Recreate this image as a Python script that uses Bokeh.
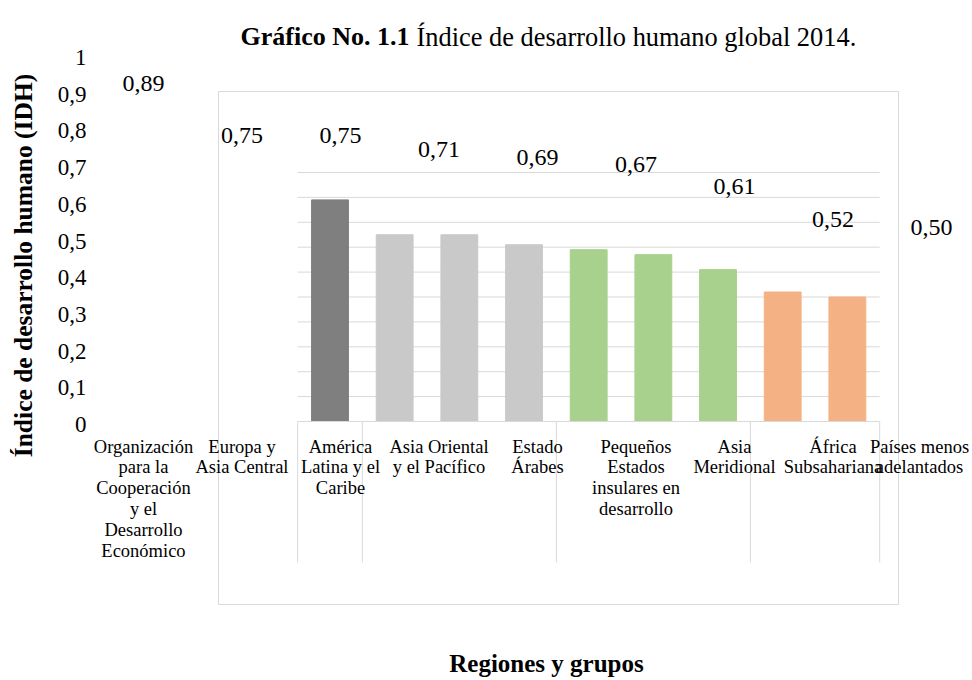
import math
from bokeh.plotting import figure
from bokeh.models import Range1d, LinearAxis, FixedTicker, CustomJSTickFormatter, ColumnDataSource
from bokeh.core.properties import value
from bokeh.embed import file_html
from bokeh.resources import INLINE

# ---------------- data ----------------
categories = [
    "Organización para la Cooperación y el Desarrollo Económico",
    "Europa y Asia Central",
    "América Latina y el Caribe",
    "Asia Oriental y el Pacífico",
    "Estado Árabes",
    "Pequeños Estados insulares en desarrollo",
    "Asia Meridional",
    "África Subsahariana",
    "Países menos adelantados",
]
category_lines = [
    "Organización\npara la\nCooperación\ny el\nDesarrollo\nEconómico",
    "Europa y\nAsia Central",
    "América\nLatina y el\nCaribe",
    "Asia Oriental\ny el Pacífico",
    "Estado\nÁrabes",
    "Pequeños\nEstados\ninsulares en\ndesarrollo",
    "Asia\nMeridional",
    "África\nSubsahariana",
    "Países menos\nadelantados",
]
idh = [0.89, 0.75, 0.75, 0.71, 0.69, 0.67, 0.61, 0.52, 0.50]
group_sizes = [1, 3, 3, 2]
y_ticks = [0, 0.1, 0.2, 0.3, 0.4, 0.5, 0.6, 0.7, 0.8, 0.9, 1]
inner_grid = [0.1, 0.2, 0.3, 0.4, 0.5, 0.6, 0.7, 0.8, 0.9, 1.0]
title_bold = "Gráfico No. 1.1"
title_rest = "Índice de desarrollo humano global 2014."
y_title = "Índice de desarrollo humano (IDH)"
x_title = "Regiones y grupos"

# ---------------- styles / layout ----------------
bar_colors = ["#7f7f7f", "#c9c9c9", "#c9c9c9", "#c9c9c9",
              "#a9d18e", "#a9d18e", "#a9d18e", "#f4b183", "#f4b183"]
label_nudge = [0, 0, 0, 0, 0, 0, 0, 0, -12]
FONT = "Liberation Serif"
GRID = "#d9d9d9"

W, H = 972, 680                 # frame covers the whole canvas (page px)
AXIS_X = 93                     # page px of the (label-only) value axis

# outer (misplaced) axis system
OX0, OXSTEP = 143.0, 98.5       # page px of first category centre, step
OY0, OY1 = 424.0, 57.0          # page px of y=0 and y=1
# inner (plot area) system
IX0, IXSTEP = 329.5, 64.67
IY0, IY1 = 421.0, 172.0
SEP_BOTTOM = 562.0
BOX = dict(left=218, right=898, top=91, bottom=604)

def xr(x0, step):
    return Range1d((0 - x0) / step, (W - x0) / step)

def yr(y0, y1):
    s = y0 - y1
    return Range1d((y0 - H) / s, (y0 - 0) / s)

n = len(idh)
idx = list(range(n))

p = figure(width=W, height=H, output_backend="svg", toolbar_location=None,
           x_range=Range1d(0, W), y_range=Range1d(H, 0),
           x_axis_type=None, y_axis_type=None,
           min_border_left=0, min_border_right=0,
           min_border_top=0, min_border_bottom=0)
p.outline_line_color = None
p.background_fill_color = "white"
p.border_fill_color = "white"

p.extra_x_ranges = {"outer": xr(OX0, OXSTEP), "inner": xr(IX0, IXSTEP)}
p.extra_y_ranges = {"outer": yr(OY0, OY1), "inner": yr(IY0, IY1)}

# value axis of the outer scale (labels only)
yaxis = LinearAxis(
    y_range_name="outer", fixed_location=AXIS_X,
    ticker=FixedTicker(ticks=y_ticks),
    formatter=CustomJSTickFormatter(code="return (Math.round(tick*10)/10).toString().replace('.', ',');"))
yaxis.axis_line_color = None
yaxis.major_tick_line_color = None
yaxis.minor_tick_line_color = None
yaxis.major_label_standoff = 1
yaxis.major_label_text_font = FONT
yaxis.major_label_text_font_size = "23px"
yaxis.major_label_text_color = "black"
p.add_layout(yaxis, "left")

# chart-area border
p.quad(left=[BOX["left"]], right=[BOX["right"]], top=[BOX["top"]], bottom=[BOX["bottom"]],
       fill_color=None, line_color=GRID, line_width=1)

# gridlines of the plot area
p.segment(x0=[-0.5] * len(inner_grid), x1=[n - 0.5] * len(inner_grid),
          y0=inner_grid, y1=inner_grid, line_color=GRID, line_width=1,
          x_range_name="inner", y_range_name="inner")

# bars
src = ColumnDataSource(dict(x=idx, top=idh, color=bar_colors))
p.vbar(x="x", top="top", width=0.57, color="color", source=src,
       x_range_name="inner", y_range_name="inner")

# category axis line and group separators
p.segment(x0=[-0.5], x1=[n - 0.5], y0=[0], y1=[0], line_color=GRID, line_width=1,
          x_range_name="inner", y_range_name="inner")
bounds = [-0.5]
for g in group_sizes:
    bounds.append(bounds[-1] + g)
sep_depth = (IY0 - SEP_BOTTOM) / (IY0 - IY1)
p.segment(x0=bounds, x1=bounds, y0=[0] * len(bounds), y1=[sep_depth] * len(bounds),
          line_color=GRID, line_width=1, x_range_name="inner", y_range_name="inner")

# data labels (outer scale)
lab_src = ColumnDataSource(dict(x=idx, y=idh, text=[f"{v:.2f}".replace(".", ",") for v in idh]))
p.text(x="x", y="y", text="text", source=lab_src, text_align="center",
       text_baseline="alphabetic", y_offset=-14, text_font=value(FONT),
       text_font_size="24px", text_color="black",
       x_range_name="outer", y_range_name="outer")

# category labels (outer scale)
cat_src = ColumnDataSource(dict(x=idx, y=[0] * n, text=category_lines, dx=label_nudge))
p.text(x="x", y="y", text="text", source=cat_src, text_align="center",
       text_baseline="top", y_offset=12, x_offset="dx", text_font=value(FONT),
       text_font_size="18.5px", text_line_height=1.04, text_color="black",
       x_range_name="outer", y_range_name="outer")

# title
p.text(x=[409], y=[36], text=[title_bold], text_align="right", text_baseline="alphabetic",
       text_font=value(FONT), text_font_size="26px", text_font_style="bold",
       text_color="black")
p.text(x=[416], y=[36], text=[title_rest], text_align="left", text_baseline="alphabetic",
       text_font=value(FONT), text_font_size="26.4px", text_color="black")

# y title
p.text(x=[23], y=[265], text=[y_title], angle=math.pi / 2, text_align="center",
       text_baseline="middle", text_font=value(FONT), text_font_size="25.5px",
       text_font_style="bold", text_color="black")

# x title
p.text(x=[546], y=[663], text=[x_title], text_align="center", text_baseline="alphabetic",
       text_font=value(FONT), text_font_size="25px", text_font_style="bold",
       text_color="black")

open("out.html", "w").write(file_html(p, INLINE))
